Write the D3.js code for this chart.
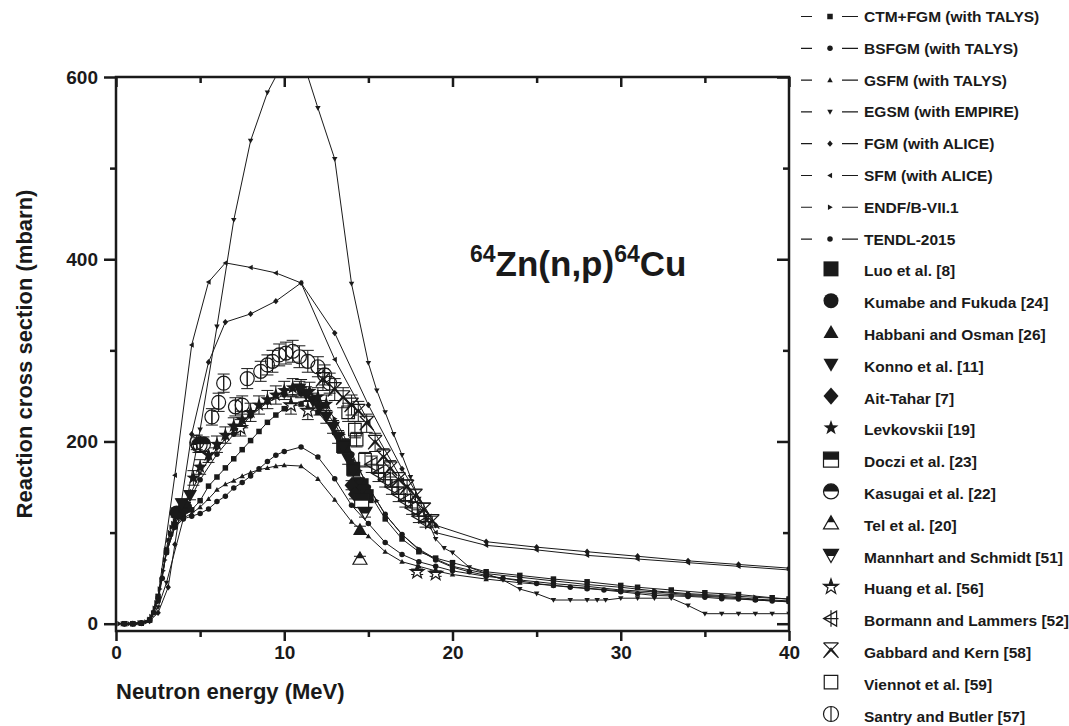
<!DOCTYPE html>
<html>
<head>
<meta charset="utf-8">
<script src="https://cdn.jsdelivr.net/npm/d3@7"></script>
<style>
  body { margin: 0; background: #fff; }
  svg text { font-family: Arial, "Liberation Sans", sans-serif; font-weight: bold; fill: #1a1a1a; }
</style>
</head>
<body>
<div id="chart"></div>
<script>
// ---- data: [energy MeV, cross section mbarn] ----
const ctmFgm = [[0.5,0],[1,0],[1.5,0.5],[2,4],[2.5,30],[3,80],[3.5,108],[4,118],[4.5,125],[5,135],[5.5,151],[6,161],[6.5,171],[7,181],[7.5,191],[8,201],[8.5,211],[9,221],[9.5,229],[10,236],[11,241],[12,232],[13,210],[14,178],[15,145],[16,115],[17,93],[18,79],[19,72],[20,67],[22,57],[24,53],[26,49],[28,46],[30,42],[31,40],[33,37],[35,34],[37,32],[39,28.5],[40,27]];
const bsfgm = [[0.5,0],[1,0],[1.5,0.5],[2,4],[2.5,28],[3,78],[3.5,106],[4,115],[4.5,118],[5,121],[5.5,126],[6,134],[6.5,140],[7,149],[7.5,155],[8,162],[8.5,170],[9,178],[9.5,185],[10,189],[11,194],[12,183],[13,159],[14,130],[15,110],[16,89],[17,76],[18,68],[19,63],[20,58],[22,52],[24,48],[26,44],[28,41],[30,37],[32,35],[34,32],[36,30],[38,27],[40,25]];
const gsfm = [[0.5,0],[1,0],[1.5,0.5],[2,4],[2.5,28],[3,78],[3.5,106],[4,116],[4.5,121],[5,128],[5.5,137],[6,147],[6.5,153],[7,157],[7.5,162],[8,166],[8.5,169],[9,171],[9.5,173],[10,174],[11,173],[12,159],[13,136],[14,112],[15,96],[16,79],[17,68],[18,63],[19,58],[20,54],[22,49],[24,45],[26,42],[28,39],[30,36],[32,33],[34,31],[36,29],[38,26],[40,24]];
const egsm = [[0.5,0],[1,0],[1.5,0],[2,4],[2.5,18],[3,45],[4,115],[5,213],[6,326],[7,443],[8,530],[9,583],[10,618],[11,624],[12,566],[13,510],[14,373],[15,286],[15.5,256],[16,232],[16.5,208],[17,185],[17.5,161],[18,137],[18.5,114],[19,93],[19.5,83],[20,78],[21,62],[22,55],[23,48],[24,38],[25,33],[26,26],[27,26],[28,26],[28.6,26],[29.1,26],[30,28],[31,28],[32,28],[33,28],[34,20],[35,11],[36,11],[37,11],[38,11],[39,11],[40,11]];
const fgmAlice = [[1,0],[2,3],[2.5,12],[3.1,40],[3.5,87],[4.5,208],[5.5,287],[6.5,331],[8,340],[9.5,354],[11,374],[13,319],[15,240],[17,170],[19,108],[22,90],[25,84],[28,79],[31,74],[34,69],[37,65],[40,61]];
const sfmAlice = [[1,0],[2,4],[2.5,30],[3.5,163],[4.5,306],[5.5,375],[6.5,396],[8,391],[9.5,385],[11,374],[13,290],[15,222],[17,158],[19,100],[22,86],[25,81],[28,75],[31,71],[34,67],[37,63],[40,59]];
const endfB71 = [[0.2,0],[0.4,0],[0.6,0],[0.8,0],[1,0],[1.2,0],[1.4,1],[1.6,1],[1.8,2],[2,5],[2.1,8],[2.2,12],[2.3,17],[2.4,23],[2.5,30],[2.6,38],[2.7,48],[2.8,58],[2.9,70],[3,82],[3.1,92],[3.2,100],[3.3,106],[3.4,110],[3.5,113],[3.6,116],[3.7,118],[3.8,120],[4,125],[4.5,145],[5,165],[5.5,180],[6,192],[6.5,203],[7,212],[7.5,221],[8,230],[8.5,238],[9,245],[9.5,251],[10,255],[10.5,257],[11,256],[11.5,253],[12,247],[12.5,238],[13,225],[13.5,208],[14,188],[14.5,168],[15,150],[15.5,135],[16,120],[17,98],[18,82],[19,71],[20,63],[22,55],[24,51],[26,47],[28,43],[30,40],[32,36],[34,33],[36,31],[38,29],[40,27]];
const tendl2015 = [[0.5,0],[1,0],[1.5,1],[2,4],[2.25,12],[2.5,25],[2.75,50],[3,80],[3.25,98],[3.5,110],[3.75,117],[4,122],[5,158],[6,186],[7,208],[8,228],[9,243],[10,251],[11,252],[12,243],[13,220],[14,185],[15,150],[16,120],[17,98],[18,81],[19,70],[20,62],[21,57],[22,53],[23,50],[24,47],[25,44],[26,42],[27,40],[28,38.5],[29,37],[30,35],[31,33],[32,31],[33,30.5],[34,30],[35,29],[36,27.5],[37,27],[38,26],[39,25],[40,24]];

// experiments: [energy MeV, cross section mbarn, error mbarn]
const luo = [[13.5,195,8],[14.1,170,7],[14.6,152,6],[14.9,140,6]];
const kumabe = [[3.6,122,5],[4.1,128,5]];
const habbani = [[14.5,103,4]];
const konno = [[3.9,132,5],[4.4,141,5],[10.9,258,8],[11.3,252,8],[11.7,245,8],[12.1,237,8],[12.5,227,7],[12.9,216,7],[13.2,205,7],[13.5,194,6],[13.8,181,6],[14.1,168,6],[14.4,155,5],[14.6,147,5]];
const aitTahar = [[14.0,152,5],[14.2,142,5]];
const levkovskii = [[4.6,160,8],[5.0,172,8],[5.5,185,8],[6.0,197,9],[6.5,207,9],[7.0,217,9],[7.5,224,9],[8.0,232,10],[8.5,240,10],[9.0,246,10],[9.5,251,10],[10.0,256,10],[10.5,259,10],[11.0,258,10],[11.5,255,10],[12.0,249,10],[12.5,241,10]];
const doczi = [[14.6,135,6]];
const kasugai = [[4.9,196,8],[5.2,197,8]];
const tel = [[14.5,71,3]];
const mannhart = [[14.8,122,5]];
const huang = [[7.4,215,9],[10.4,240,10],[11.4,234,10],[17.9,57,3],[19.0,55,3]];
const bormann = [[15.2,175,9],[15.6,165,9],[16.0,158,8],[16.4,150,8],[16.8,142,8],[17.2,135,7],[17.6,127,7],[18.0,118,7],[18.4,112,6]];
const gabbard = [[12.3,268,12],[13.0,257,12],[13.5,248,11],[14.0,240,11],[14.4,233,11],[14.9,220,10],[15.4,199,10],[15.9,183,9],[16.3,170,9],[16.8,158,8],[17.3,150,8],[17.8,140,7],[18.3,125,7],[18.8,112,6]];
const viennot = [[13.8,232,10],[14.2,213,9],[14.3,202,8],[14.8,180,8]];
const santry = [[4.8,199,8],[5.0,196,8],[5.7,227,9],[6.1,243,10],[6.4,264,10],[7.1,238,10],[7.5,240,10],[7.8,269,11],[8.6,277,11],[9.0,284,11],[9.3,288,12],[9.7,295,12],[10.1,297,12],[10.5,299,12],[10.9,293,12],[11.4,288,12],[12.0,282,11],[12.4,273,11],[12.7,264,11]];

const theoryLabels = ['CTM+FGM (with TALYS)', 'BSFGM (with TALYS)', 'GSFM (with TALYS)', 'EGSM (with EMPIRE)',
  'FGM (with ALICE)', 'SFM (with ALICE)', 'ENDF/B-VII.1', 'TENDL-2015'];
const expLabels = ['Luo et al. [8]', 'Kumabe and Fukuda [24]', 'Habbani and Osman [26]', 'Konno et al. [11]',
  'Ait-Tahar [7]', 'Levkovskii [19]', 'Doczi et al. [23]', 'Kasugai et al. [22]', 'Tel et al. [20]',
  'Mannhart and Schmidt [51]', 'Huang et al. [56]', 'Bormann and Lammers [52]', 'Gabbard and Kern [58]',
  'Viennot et al. [59]', 'Santry and Butler [57]'];
const xMajor = [0, 10, 20, 30, 40];
const xMinor = [5, 15, 25, 35];
const yMajor = [0, 200, 400, 600];
const yMinor = [100, 300, 500];

const theory = [
  { name: theoryLabels[0], data: ctmFgm, marker: 'square' },
  { name: theoryLabels[1], data: bsfgm, marker: 'circle' },
  { name: theoryLabels[2], data: gsfm, marker: 'triUp' },
  { name: theoryLabels[3], data: egsm, marker: 'triDown' },
  { name: theoryLabels[4], data: fgmAlice, marker: 'diamond' },
  { name: theoryLabels[5], data: sfmAlice, marker: 'triLeft' },
  { name: theoryLabels[6], data: endfB71, marker: 'triRight' },
  { name: theoryLabels[7], data: tendl2015, marker: 'circle' }
];
const experiments = [
  { name: expLabels[0], data: luo, marker: 'square' },
  { name: expLabels[1], data: kumabe, marker: 'circle' },
  { name: expLabels[2], data: habbani, marker: 'triUp' },
  { name: expLabels[3], data: konno, marker: 'triDown' },
  { name: expLabels[4], data: aitTahar, marker: 'diamond' },
  { name: expLabels[5], data: levkovskii, marker: 'star' },
  { name: expLabels[6], data: doczi, marker: 'halfSquare' },
  { name: expLabels[7], data: kasugai, marker: 'halfCircle' },
  { name: expLabels[8], data: tel, marker: 'halfTriUp' },
  { name: expLabels[9], data: mannhart, marker: 'halfTriDown' },
  { name: expLabels[10], data: huang, marker: 'halfStar' },
  { name: expLabels[11], data: bormann, marker: 'bormann' },
  { name: expLabels[12], data: gabbard, marker: 'gabbard' },
  { name: expLabels[13], data: viennot, marker: 'openSquare' },
  { name: expLabels[14], data: santry, marker: 'santry' }
];

const ink = '#1a1a1a';
const width = 1069, height = 726;

const svg = d3.select('#chart').append('svg')
  .attr('width', width)
  .attr('height', height);

svg.append('defs').append('clipPath')
  .attr('id', 'topHalf')
  .attr('clipPathUnits', 'objectBoundingBox')
  .append('rect').attr('x', -0.2).attr('y', -0.2).attr('width', 1.4).attr('height', 0.7);

const x = d3.scaleLinear().domain([0, 40]).range([116, 789]);
const y = d3.scaleLinear().domain([-8, 600]).range([631, 77]);

svg.select('defs').append('clipPath').attr('id', 'plotArea')
  .append('rect')
  .attr('x', x.range()[0]).attr('y', y.range()[1])
  .attr('width', x.range()[1] - x.range()[0])
  .attr('height', y.range()[0] - y.range()[1]);

// marker outlines, centred on 0,0
function shapePath(kind, s) {
  const h = s / 2;
  switch (kind) {
    case 'square': return `M${-h},${-h}H${h}V${h}H${-h}Z`;
    case 'circle': return `M${-h},0A${h},${h} 0 1,0 ${h},0A${h},${h} 0 1,0 ${-h},0Z`;
    case 'triUp': return `M0,${-h}L${h},${h * 0.75}L${-h},${h * 0.75}Z`;
    case 'triDown': return `M0,${h}L${h},${-h * 0.75}L${-h},${-h * 0.75}Z`;
    case 'triLeft': return `M${-h},0L${h * 0.75},${-h}L${h * 0.75},${h}Z`;
    case 'triRight': return `M${h},0L${-h * 0.75},${-h}L${-h * 0.75},${h}Z`;
    case 'diamond': return `M0,${-h * 1.15}L${h},0L0,${h * 1.15}L${-h},0Z`;
    case 'star': {
      let p = '';
      for (let i = 0; i < 10; i++) {
        const r = i % 2 ? h * 0.42 : h * 1.05;
        const a = -Math.PI / 2 + i * Math.PI / 5;
        p += (i ? 'L' : 'M') + (r * Math.cos(a)).toFixed(2) + ',' + (r * Math.sin(a)).toFixed(2);
      }
      return p + 'Z';
    }
  }
}

function drawMarker(g, kind, s) {
  const h = s / 2;
  const half = { halfSquare: 'square', halfCircle: 'circle', halfTriUp: 'triUp', halfTriDown: 'triDown', halfStar: 'star' };
  if (half[kind]) {
    g.append('path').attr('d', shapePath(half[kind], s)).attr('fill', '#fff').attr('stroke', ink).attr('stroke-width', 1.2);
    g.append('path').attr('d', shapePath(half[kind], s)).attr('fill', ink).attr('clip-path', 'url(#topHalf)');
  } else if (kind === 'openSquare') {
    g.append('path').attr('d', shapePath('square', s * 0.9)).attr('fill', 'none').attr('stroke', ink).attr('stroke-width', 1.2);
  } else if (kind === 'santry') {
    g.append('path').attr('d', shapePath('circle', s) + `M0,${-h}V${h}`).attr('fill', 'none').attr('stroke', ink).attr('stroke-width', 1.2);
  } else if (kind === 'bormann') {
    g.append('path').attr('d', shapePath('triLeft', s) + `M0,${-h * 1.1}V${h * 1.1}M${-h},0H${h}`)
      .attr('fill', 'none').attr('stroke', ink).attr('stroke-width', 1.2);
  } else if (kind === 'gabbard') {
    g.append('path')
      .attr('d', `M${-h},${-h}L${h},${h}M${h},${-h}L${-h},${h}M${-h},${-h}H${h}M${-h},${h}L0,${-h * 0.3}L${h},${h}`)
      .attr('fill', 'none').attr('stroke', ink).attr('stroke-width', 1.2);
  } else {
    g.append('path').attr('d', shapePath(kind, s)).attr('fill', ink);
  }
}

// ---- theory curves ----
const plot = svg.append('g').attr('clip-path', 'url(#plotArea)');

const line = d3.line()
  .x(d => x(d[0]))
  .y(d => y(d[1]));

theory.forEach(s => {
  plot.append('path')
    .datum(s.data)
    .attr('fill', 'none')
    .attr('stroke', ink)
    .attr('stroke-width', 1)
    .attr('d', line);

  plot.selectAll(null)
    .data(s.data)
    .enter()
    .append('g')
    .attr('transform', d => `translate(${x(d[0])},${y(d[1])})`)
    .each(function () { drawMarker(d3.select(this), s.marker, 5.5); });
});

// ---- experimental points with error bars ----
experiments.forEach(s => {
  const pts = plot.selectAll(null)
    .data(s.data)
    .enter()
    .append('g')
    .attr('transform', d => `translate(${x(d[0])},${y(d[1])})`);

  pts.append('path')
    .attr('fill', 'none')
    .attr('stroke', ink)
    .attr('stroke-width', 1)
    .attr('d', d => {
      const up = y(d[1] + d[2]) - y(d[1]);
      const dn = y(d[1] - d[2]) - y(d[1]);
      return `M0,${up}V${dn}M-6,${up}H6M-6,${dn}H6`;
    });

  pts.each(function () { drawMarker(d3.select(this), s.marker, 14); });
});

// ---- axes and frame ----
function styleAxis(g) {
  g.select('.domain').remove();
  g.selectAll('line').attr('stroke', ink).attr('stroke-width', 2.5);
  g.selectAll('text').style('font-size', '19px').attr('fill', ink);
}

svg.append('g').attr('transform', `translate(0,${y.range()[0]})`)
  .call(d3.axisBottom(x).tickValues(xMajor).tickSize(10).tickPadding(5))
  .call(styleAxis);
svg.append('g').attr('transform', `translate(0,${y.range()[0]})`)
  .call(d3.axisBottom(x).tickValues(xMinor).tickSize(6).tickFormat(''))
  .call(styleAxis);
svg.append('g').attr('transform', `translate(0,${y.range()[1]})`)
  .call(d3.axisTop(x).tickValues(xMajor).tickSize(-10).tickFormat(''))
  .call(styleAxis);
svg.append('g').attr('transform', `translate(0,${y.range()[1]})`)
  .call(d3.axisTop(x).tickValues(xMinor).tickSize(-6).tickFormat(''))
  .call(styleAxis);

svg.append('g').attr('transform', `translate(${x.range()[0]},0)`)
  .call(d3.axisLeft(y).tickValues(yMajor).tickSize(12).tickPadding(6))
  .call(styleAxis);
svg.append('g').attr('transform', `translate(${x.range()[0]},0)`)
  .call(d3.axisLeft(y).tickValues(yMinor).tickSize(6).tickFormat(''))
  .call(styleAxis);
svg.append('g').attr('transform', `translate(${x.range()[1]},0)`)
  .call(d3.axisRight(y).tickValues(yMajor).tickSize(-12).tickFormat(''))
  .call(styleAxis);
svg.append('g').attr('transform', `translate(${x.range()[1]},0)`)
  .call(d3.axisRight(y).tickValues(yMinor).tickSize(-6).tickFormat(''))
  .call(styleAxis);

svg.append('rect')
  .attr('x', x.range()[0]).attr('y', y.range()[1])
  .attr('width', x.range()[1] - x.range()[0])
  .attr('height', y.range()[0] - y.range()[1])
  .attr('fill', 'none')
  .attr('stroke', ink)
  .attr('stroke-width', 2.5);

// axis titles
svg.append('text')
  .attr('x', 116).attr('y', 699)
  .style('font-size', '22px')
  .text('Neutron energy (MeV)');

svg.append('text')
  .attr('transform', `translate(32,${(y.range()[0] + y.range()[1]) / 2}) rotate(-90)`)
  .attr('text-anchor', 'middle')
  .style('font-size', '22px')
  .text('Reaction cross section (mbarn)');

// reaction label with superscript mass numbers
const title = svg.append('text').attr('x', 470).attr('y', 276).style('font-size', '35px');
title.append('tspan').attr('dy', -14).style('font-size', '23px').text('64');
title.append('tspan').attr('dy', 14).text('Zn(n,p)');
title.append('tspan').attr('dy', -14).style('font-size', '23px').text('64');
title.append('tspan').attr('dy', 14).text('Cu');

// ---- legend ----
const legendY = d3.scaleLinear().domain([0, 22]).range([16.5, 716]);

const lineLegend = svg.selectAll('.line-legend')
  .data(theory)
  .enter()
  .append('g')
  .attr('transform', (d, i) => `translate(0,${legendY(i)})`);

lineLegend.append('path')
  .attr('d', 'M801,0H812M842,0H858')
  .attr('stroke', ink)
  .attr('stroke-width', 1.2);
lineLegend.append('g')
  .attr('transform', 'translate(830,0)')
  .each(function (d) { drawMarker(d3.select(this), d.marker, 5.5); });
lineLegend.append('text')
  .attr('x', 864)
  .attr('dy', '0.36em')
  .style('font-size', '15.5px')
  .text(d => d.name);

const expLegend = svg.selectAll('.exp-legend')
  .data(experiments)
  .enter()
  .append('g')
  .attr('transform', (d, i) => `translate(0,${legendY(i + theory.length)})`);

expLegend.append('g')
  .attr('transform', 'translate(831,-2)')
  .each(function (d) { drawMarker(d3.select(this), d.marker, 15); });
expLegend.append('text')
  .attr('x', 864)
  .attr('dy', '0.36em')
  .style('font-size', '15.5px')
  .text(d => d.name);
</script>
</body>
</html>
